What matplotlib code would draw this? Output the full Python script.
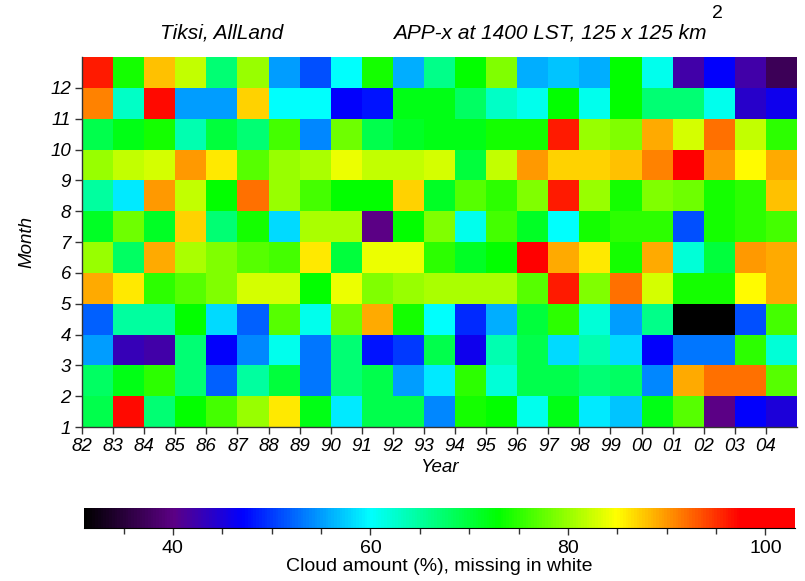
import numpy as np
import matplotlib
matplotlib.use("Agg")
import matplotlib.pyplot as plt
from matplotlib.colors import LinearSegmentedColormap, Normalize
from matplotlib.cm import ScalarMappable

plt.rcParams['font.family'] = ['Liberation Sans', 'DejaVu Sans']

# Monthly mean cloud amount (%) for each year 1982-2004
year_labels = ["82", "83", "84", "85", "86", "87", "88", "89", "90", "91", "92", "93",
               "94", "95", "96", "97", "98", "99", "00", "01", "02", "03", "04"]
month_labels = [1, 2, 3, 4, 5, 6, 7, 8, 9, 10, 11, 12]

jan = [69, 97, 67, 73, 76, 80, 86, 72, 59, 69, 69, 54, 74, 73, 61, 72, 59, 57, 72, 77, 40, 47, 45]
feb = [68, 72, 75, 67, 52, 65, 70, 53, 67, 69, 55, 59, 75, 62, 69, 69, 67, 68, 54, 89, 92, 92, 77]
mar = [55, 43, 42, 67, 47, 54, 61, 53, 67, 48, 50, 69, 46, 64, 69, 58, 64, 58, 47, 53, 53, 75, 62]
apr = [52, 65, 65, 73, 58, 52, 77, 61, 78, 89, 74, 60, 49, 56, 70, 75, 62, 55, 66, 31, 31, 51, 76]
may = [89, 86, 75, 77, 79, 83, 83, 73, 84, 79, 80, 81, 81, 81, 77, 96, 79, 92, 83, 74, 74, 85, 89]
jun = [80, 68, 89, 81, 79, 77, 76, 86, 70, 84, 84, 75, 71, 73, 98, 89, 86, 74, 89, 62, 70, 90, 89]
jul = [71, 78, 71, 87, 67, 74, 58, 81, 81, 40, 73, 79, 61, 76, 71, 60, 74, 75, 75, 51, 74, 75, 76]
aug = [65, 59, 90, 82, 73, 92, 80, 76, 73, 73, 87, 71, 77, 75, 79, 96, 80, 74, 79, 78, 74, 75, 88]
sep = [80, 82, 83, 90, 86, 77, 80, 81, 84, 82, 82, 83, 70, 82, 90, 87, 87, 88, 91, 98, 90, 85, 89]
oct_ = [69, 72, 74, 64, 70, 67, 76, 54, 78, 69, 71, 72, 72, 74, 74, 96, 80, 79, 89, 83, 92, 82, 75]
nov = [91, 63, 97, 55, 55, 87, 60, 60, 47, 48, 72, 72, 68, 63, 61, 73, 61, 73, 67, 67, 61, 44, 46]
dec = [96, 74, 88, 82, 67, 80, 55, 51, 60, 74, 56, 66, 73, 79, 56, 57, 56, 73, 61, 42, 47, 42, 37]

colorbar_ticks = [40, 60, 80, 100]

cloud = np.array([jan, feb, mar, apr, may, jun, jul, aug, sep, oct_, nov, dec], dtype=float)

vmin, vmax = 31.0, 103.0
stops = [(31, (0.0, 0.0, 0.0)),
         (40, (0.36, 0.0, 0.52)),
         (47, (0.0, 0.0, 1.0)),
         (60, (0.0, 1.0, 1.0)),
         (73, (0.0, 1.0, 0.0)),
         (85, (1.0, 1.0, 0.0)),
         (97.5, (1.0, 0.0, 0.0)),
         (103, (1.0, 0.0, 0.0))]
cmap = LinearSegmentedColormap.from_list(
    "cloud", [((v - vmin) / (vmax - vmin), c) for v, c in stops])
norm = Normalize(vmin=vmin, vmax=vmax)

W, H = 805, 581
fig = plt.figure(figsize=(W / 100, H / 100), dpi=100)

def fx(px):
    return px / W

def fy(py):
    return 1 - py / H

ax = fig.add_axes([fx(82), fy(427), fx(797) - fx(82), fy(57) - fy(427)])
x_edges = np.arange(len(year_labels) + 1)
y_edges = np.arange(1, len(month_labels) + 2)
ax.pcolormesh(x_edges, y_edges, cloud, cmap=cmap, norm=norm, shading="flat")
ax.set_xlim(0, len(year_labels))
ax.set_ylim(1, 13)
ax.set_xticks(np.arange(len(year_labels)))
ax.set_xticklabels(year_labels, fontstyle="italic", fontsize=13.5)
ax.set_yticks(month_labels)
ax.set_yticklabels([str(m) for m in month_labels], fontstyle="italic", fontsize=13.5)
ax.tick_params(axis="both", direction="out", length=5, width=1, color="#333333")
ax.tick_params(axis="x", pad=3)
ax.tick_params(axis="y", pad=3)
for side in ("top", "right"):
    ax.spines[side].set_visible(False)
for side in ("left", "bottom"):
    ax.spines[side].set_color("#333333")
    ax.spines[side].set_linewidth(1)
ax.set_xlabel("Year", fontstyle="italic", fontsize=13.5)
ax.xaxis.set_label_coords(0.5, fy(468) / (fy(57) - fy(427)) - fy(427) / (fy(57) - fy(427)))
ax.xaxis.label.set_va("center")
ax.set_ylabel("Month", fontstyle="italic", fontsize=13.5)
ax.yaxis.set_label_coords((27 - 82) / (797 - 82), 0.5)
ax.yaxis.label.set_va("center")

fig.text(fx(222), fy(33), "Tiksi, AllLand", fontstyle="italic", fontsize=15,
         ha="center", va="center")
fig.text(fx(393), fy(33), "APP-x at 1400 LST, 125 x 125 km", fontstyle="italic",
         fontsize=15, ha="left", va="center")
fig.text(fx(717), fy(14), "2", fontsize=14, ha="center", va="center")

cax = fig.add_axes([fx(84), fy(527.7), fx(795) - fx(84), fy(507.7) - fy(527.7)])
cb = fig.colorbar(ScalarMappable(norm=norm, cmap=cmap), cax=cax, orientation="horizontal")
cb.outline.set_visible(False)
cax.spines["bottom"].set_visible(True)
cax.set_xticks(colorbar_ticks)
cax.set_xticks(np.arange(35, 101, 5), minor=True)
cax.tick_params(axis="x", which="major", length=5, width=1, labelsize=14, color="#333333")
cax.tick_params(axis="x", which="minor", length=4, width=1, color="#333333")
cax.set_xlabel("Cloud amount (%), missing in white", fontsize=14, labelpad=1)

fig.savefig("out.png", dpi=100)
